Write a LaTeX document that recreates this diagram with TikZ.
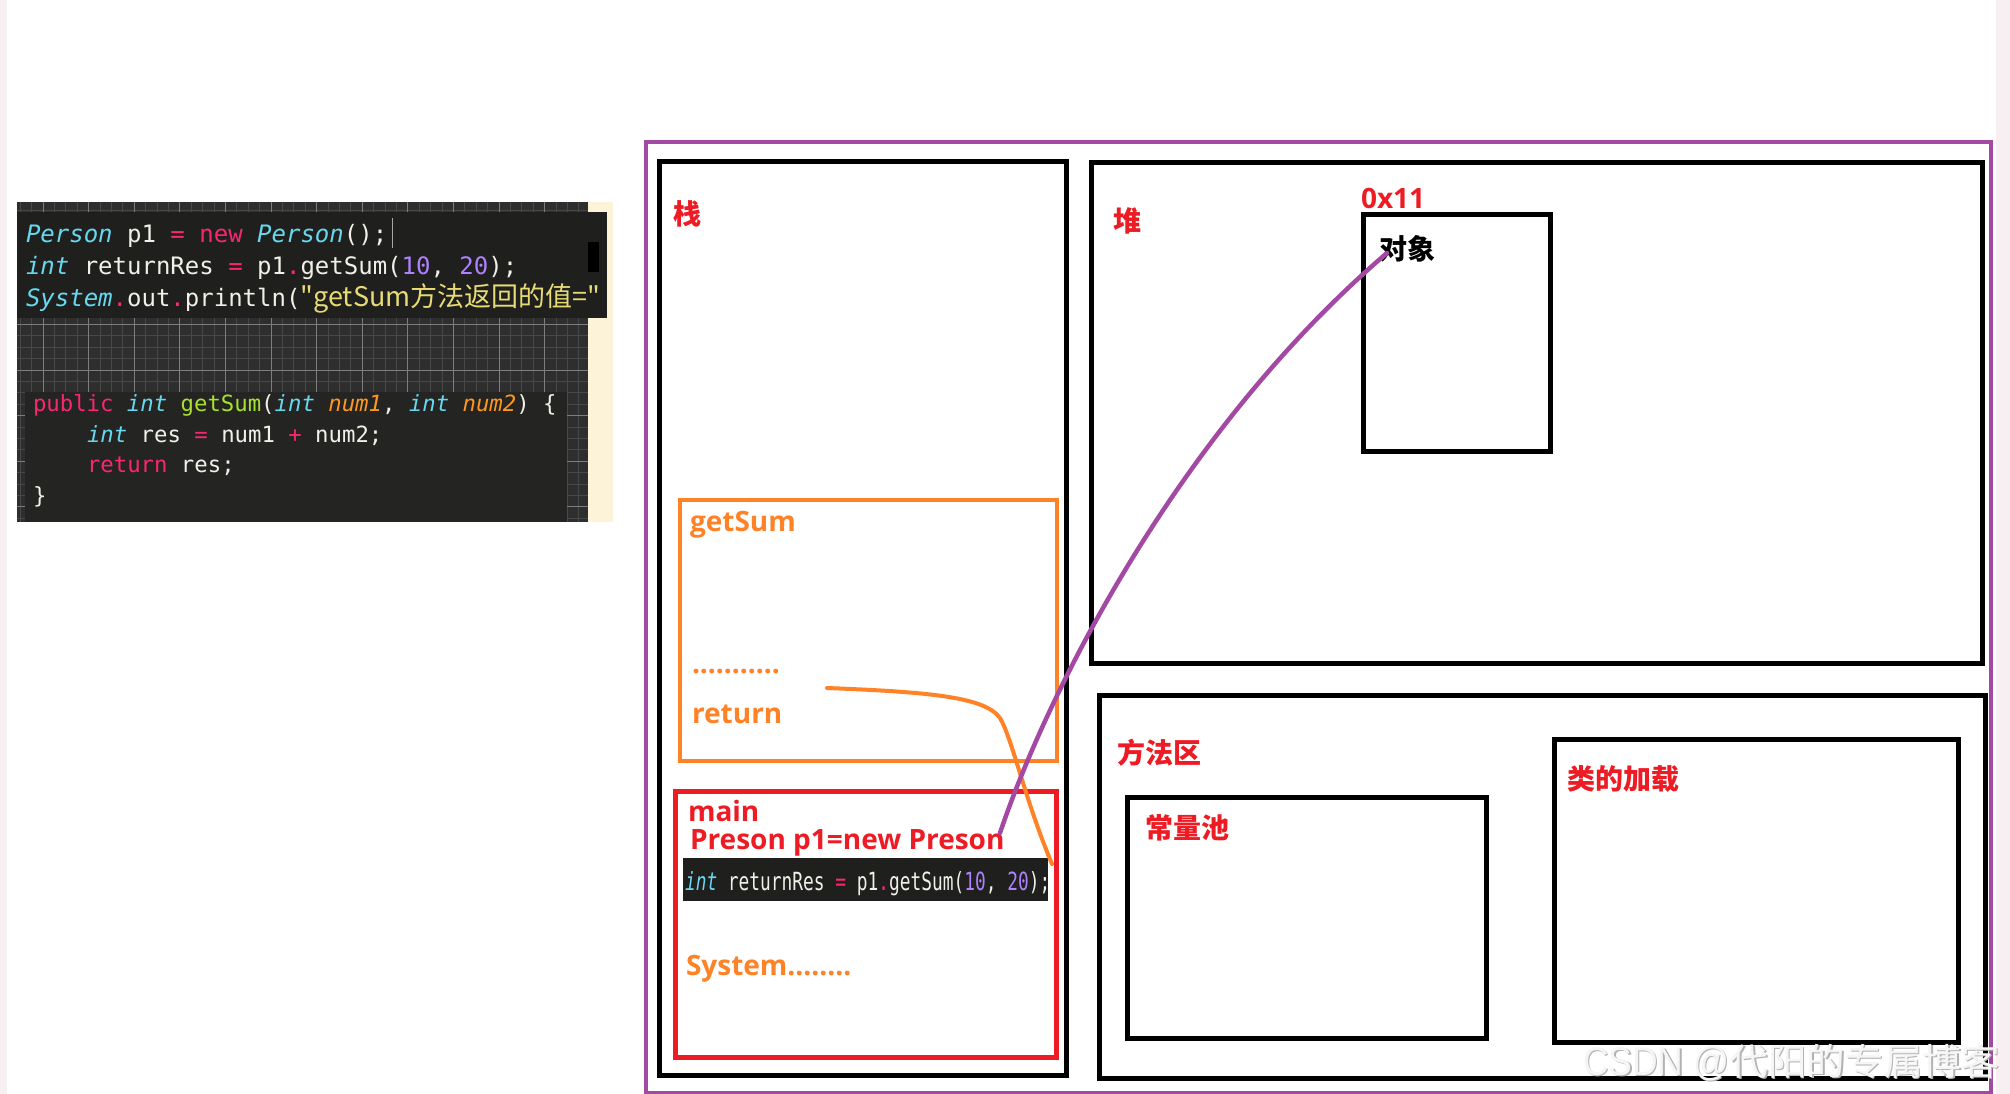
\documentclass[tikz,border=0pt]{standalone}
\usepackage{fontspec}
\newfontfamily\cjk{Noto Sans CJK SC}
\newfontfamily\codefont{DejaVu Sans Mono}
\newfontfamily\labfont{Open Sans}
\newfontfamily\wmlat{Liberation Sans}
\definecolor{jred}{RGB}{237,28,36}
\definecolor{jorange}{RGB}{255,130,39}
\definecolor{jpurple}{RGB}{163,73,164}
\definecolor{mkpink}{RGB}{249,38,114}
\definecolor{mkcyan}{RGB}{102,217,239}
\definecolor{mkpurple}{RGB}{174,129,255}
\definecolor{mkyellow}{RGB}{230,219,116}
\definecolor{mkgreen}{RGB}{166,226,46}
\definecolor{mkorange}{RGB}{253,151,31}
\definecolor{mkwhite}{RGB}{240,240,232}
\definecolor{gridbg}{RGB}{46,46,46}
\definecolor{gridmin}{RGB}{72,72,72}
\definecolor{gridmaj}{RGB}{125,125,125}
\definecolor{codebgA}{RGB}{31,31,29}
\definecolor{codebgB}{RGB}{36,36,34}
\definecolor{creamstrip}{RGB}{253,243,216}
\definecolor{pinkedge}{RGB}{248,239,243}
\newcommand{\cKw}[1]{{\color{mkpink}#1}}
\newcommand{\cTy}[1]{{\color{mkcyan}\itshape #1}}
\newcommand{\cNum}[1]{{\color{mkpurple}#1}}
\newcommand{\cPar}[1]{{\color{mkorange}\itshape #1}}
\newcommand{\cFn}[1]{{\color{mkgreen}#1}}
\newcommand{\wmtext}{\resizebox{417pt}{\height}{{\wmlat\fontsize{40}{40}\selectfont\scalebox{0.85}[1]{CSDN @}}代阳的专属博客}}
\begin{document}
\begin{tikzpicture}[x=1pt,y=-1pt,
  txt/.style={anchor=base west, inner sep=0pt, outer sep=0pt},
  cjklab/.style={txt, font=\cjk\bfseries\fontsize{28}{30}\selectfont, text=jred},
  latlab/.style={txt, font=\labfont\bfseries\fontsize{28}{30}\selectfont},
  code/.style={txt, font=\codefont\fontsize{24}{26}\selectfont, text=mkwhite},
  codeb/.style={txt, font=\codefont\fontsize{22.3}{24}\selectfont, text=mkwhite},
  box/.style={draw=black, line width=5pt, anchor=north west, inner sep=0pt, outer sep=0pt},
  gridminor/.style={draw=gridmin, line width=0.8pt},
  gridmajor/.style={draw=gridmaj, line width=1pt}]
\useasboundingbox (0,0) rectangle (2010,1094);
\fill[white] (0,0) rectangle (2010,1094);
\fill[pinkedge] (0,0) rectangle (7,1094);
\fill[pinkedge] (1996,0) rectangle (2010,1094);

% ---- code screenshot ----
\fill[gridbg] (17,202) rectangle (588,522);
\foreach \gx in {20.2,31.6,...,588} \draw[gridminor] (\gx,202) -- (\gx,522);
\foreach \gy in {210.4,221.8,...,522} \draw[gridminor] (17,\gy) -- (588,\gy);
\foreach \gx in {43,88.6,...,588} \draw[gridmajor] (\gx,202) -- (\gx,522);
\foreach \gy in {233.2,278.8,...,522} \draw[gridmajor] (17,\gy) -- (588,\gy);
\fill[creamstrip] (588,202) rectangle (613,522);
\fill[codebgA] (17,212) rectangle (607,318);
\fill[black] (588,242) rectangle (599,272);
\fill[codebgB] (25,392) rectangle (567,522);

\node[code] (c1) at (26,242) {\cTy{Person} p1 \cKw{=} \cKw{new} \cTy{Person}();};
\draw[gray!70, line width=1pt] (392,218) -- (392,248);
\node[code] (c2) at (26,274) {\cTy{int} returnRes \cKw{=} p1\cKw{.}getSum(\cNum{10}, \cNum{20});};
\node[code] (c3) at (26,306) {\cTy{System}\cKw{.}out\cKw{.}println({\cjk\fontsize{27}{28}\selectfont\color{mkyellow}"getSum方法返回的值="}};

\node[codeb] (d1) at (33,411) {\cKw{public} \cTy{int} \cFn{getSum}(\cTy{int} \cPar{num1}, \cTy{int} \cPar{num2}) \{};
\node[codeb] (d2) at (87,442) {\cTy{int} res \cKw{=} num1 \cKw{+} num2;};
\node[codeb] (d3) at (87,472) {\cKw{return} res;};
\node[codeb] (d4) at (33,503) {\}};

% ---- memory diagram ----
\node[box, draw=jpurple, line width=4pt, minimum width=1345pt, minimum height=950.5pt] (jvm) at (646,142) {};
\node[box, minimum width=407pt, minimum height=914pt] (stack) at (659.5,161.5) {};
\node[box, minimum width=890.5pt, minimum height=500.5pt] (heap) at (1091.5,162.5) {};
\node[box, minimum width=186.5pt, minimum height=236pt] (obj) at (1363.5,215) {};
\node[box, minimum width=886pt, minimum height=383pt] (method) at (1099,695) {};
\node[box, minimum width=359pt, minimum height=241pt] (pool) at (1127,797.5) {};
\node[box, minimum width=404.5pt, minimum height=302.5pt] (cls) at (1554,739.5) {};
\node[box, draw=jorange, line width=4pt, minimum width=377pt, minimum height=261.5pt] (getsumbox) at (679.5,499.5) {};
\node[box, draw=jred, minimum width=381pt, minimum height=265.5pt] (mainbox) at (675.5,791.5) {};

\node[cjklab] (lstack) at (673,225) {栈};
\node[cjklab] (lheap) at (1113,232) {堆};
\node[latlab, text=jred] (laddr) at (1361,208) {0x11};
\node[cjklab, text=black] (lobj) at (1379,259) {对象};
\node[cjklab] (lmethod) at (1117,763) {方法区};
\node[cjklab] (lpool) at (1145,838) {常量池};
\node[cjklab] (lcls) at (1567,789) {类的加载};

\node[latlab, text=jorange] (lgetsum) at (690,531) {getSum};
\node[latlab, text=jorange] (ldots) at (692,673) {...........};
\node[latlab, text=jorange] (lreturn) at (692,723) {return};
\node[latlab, text=jred] (lmain) at (688,821) {main};
\node[latlab, text=jred] (lnew) at (690,849) {Preson p1=new Preson};
\fill[codebgA] (683,858) rectangle (1048,901);
\node[txt, font=\codefont\fontsize{25}{26}\selectfont, text=mkwhite] (lcall) at (685,890)
  {\scalebox{0.714}[1]{\cTy{int} returnRes \cKw{=} p1\cKw{.}getSum(\cNum{10}, \cNum{20});}};
\node[latlab, text=jorange] (lsys) at (686,975) {System........};

% ---- connectors ----
\coordinate (ostart) at (827,688);
\coordinate (oend) at (1052,864);
\draw[jorange, line width=4pt, line cap=round] (ostart) .. controls (930,692) and (985,697) .. (1000,718)
  .. controls (1012,738) and (1025,800) .. (oend);
\coordinate (pstart) at (1000,833);
\coordinate (pend) at (1387,253);
\draw[jpurple, line width=4.5pt, line cap=round] (pstart) .. controls (1048,690) and (1180,430) .. (pend);

% ---- watermark ----
\node[txt, font=\cjk\fontsize{37}{38}\selectfont, text=gray!60] (wmshadow) at (1584.5,1076.5) {\wmtext};
\node[txt, font=\cjk\fontsize{37}{38}\selectfont, text=gray!8] (wm) at (1583,1075) {\wmtext};
\end{tikzpicture}
\end{document}
